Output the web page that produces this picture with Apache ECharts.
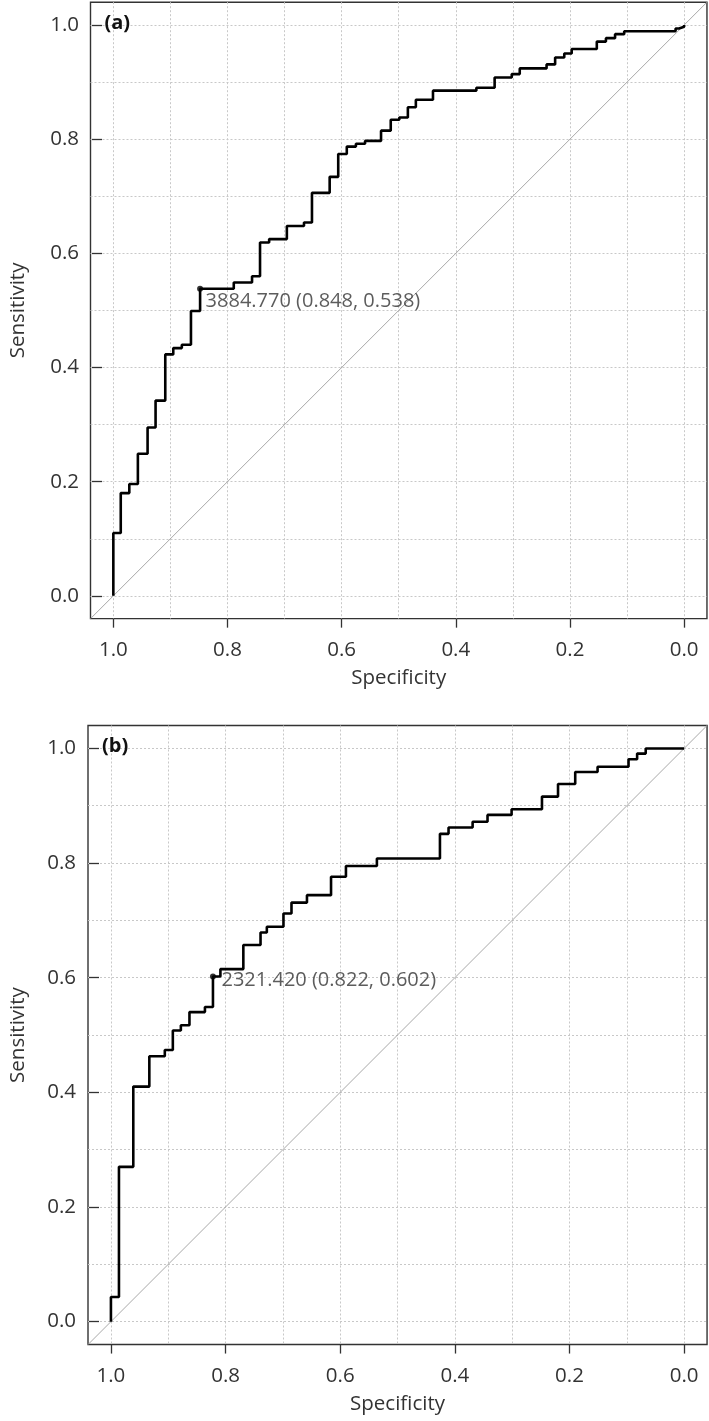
<!DOCTYPE html>
<html>
<head>
<meta charset="utf-8">
<script src="https://cdn.jsdelivr.net/npm/echarts@6/dist/echarts.min.js"></script>
<style>
html,body{margin:0;padding:0;background:#fff;}
#c{width:709px;height:1421px;}
</style>
</head>
<body>
<div id="c"></div>
<script>
// ---- data ----
const specA = [1.0, 1.0, 0.987, 0.972, 0.957, 0.940, 0.926, 0.909, 0.895, 0.880, 0.864, 0.848, 0.789, 0.757, 0.743, 0.727, 0.696, 0.666, 0.652, 0.621, 0.606, 0.591, 0.575, 0.559, 0.531, 0.514, 0.499, 0.484, 0.470, 0.440, 0.364, 0.332, 0.302, 0.288, 0.241, 0.226, 0.210, 0.197, 0.153, 0.137, 0.121, 0.105, 0.015, 0.009, 0.0];
const sensA = [0.0, 0.110, 0.180, 0.196, 0.249, 0.295, 0.342, 0.423, 0.434, 0.440, 0.499, 0.538, 0.549, 0.560, 0.619, 0.625, 0.648, 0.654, 0.706, 0.734, 0.774, 0.787, 0.792, 0.797, 0.815, 0.834, 0.838, 0.856, 0.869, 0.885, 0.890, 0.908, 0.914, 0.924, 0.931, 0.943, 0.950, 0.958, 0.971, 0.977, 0.984, 0.989, 0.994, 0.997, 1.0];
const specB = [1.0, 1.0, 0.986, 0.961, 0.933, 0.906, 0.892, 0.878, 0.863, 0.836, 0.822, 0.809, 0.769, 0.739, 0.728, 0.699, 0.685, 0.658, 0.616, 0.590, 0.536, 0.426, 0.411, 0.369, 0.343, 0.301, 0.248, 0.220, 0.190, 0.151, 0.097, 0.082, 0.067, 0.0];
const sensB = [0.0, 0.043, 0.270, 0.410, 0.463, 0.474, 0.508, 0.517, 0.540, 0.549, 0.602, 0.615, 0.657, 0.679, 0.689, 0.712, 0.731, 0.744, 0.776, 0.795, 0.808, 0.851, 0.862, 0.872, 0.884, 0.894, 0.916, 0.938, 0.959, 0.968, 0.981, 0.991, 1.0, 1.0];
// best threshold: [threshold, specificity, sensitivity]
const cutA = [3884.770, 0.848, 0.538];
const cutB = [2321.420, 0.822, 0.602];
const panelLabels = ['(a)', '(b)'];
const axisRange = [-0.04, 1.04];
const tickLabels = ['0.0', '0.2', '0.4', '0.6', '0.8', '1.0'];
const xTitle = 'Specificity';
const yTitle = 'Sensitivity';

// ---- layout ----
const FONT = 'Open Sans';
const TXT = '#333';
const panels = [
  {spec: specA, sens: sensA, cut: cutA, label: panelLabels[0], left: 90.5, top: 2.2, unit: 570.8, lblOff: [0, 13], lblDist: 2.5, yGap: 73},
  {spec: specB, sens: sensB, cut: cutB, label: panelLabels[1], left: 88.0, top: 725.5, unit: 573.2, lblOff: [0, 4], lblDist: 5.5, yGap: 70}
];

const grid = [], xAxis = [], yAxis = [], series = [], title = [];
const hidden = {axisLine: {show: false}, axisTick: {show: false}, axisLabel: {show: false}, splitLine: {show: false}};
const labFmt = v => tickLabels[Math.round(v / 0.2)] || '';
const tickStyle = {color: '#333', width: 1.3};

panels.forEach((p) => {
  const pad = 0.04 * p.unit;
  const size = 1.08 * p.unit;
  // grid 0: the plot box, holds the data
  const g0 = grid.length;
  grid.push({left: p.left, top: p.top, width: size, height: size, show: true,
    borderColor: '#333', borderWidth: 1.4, backgroundColor: 'transparent'});
  const split = {show: true, showMinLine: false, showMaxLine: false,
    lineStyle: {color: '#c8c8c8', width: 1, type: [2, 2]}};
  const ax = xAxis.length;
  xAxis.push({type: 'value', gridIndex: g0, min: axisRange[0], max: axisRange[1], inverse: true, splitNumber: 10,
    axisLine: {show: false}, axisTick: {show: false}, axisLabel: {show: false}, splitLine: split});
  yAxis.push({type: 'value', gridIndex: g0, min: axisRange[0], max: axisRange[1], splitNumber: 10,
    axisLine: {show: false}, axisTick: {show: false}, axisLabel: {show: false}, splitLine: split});

  // grid 1: left edge on the box, vertical span = [0,1] -> y ticks & labels
  grid.push({left: p.left, top: p.top + pad, width: p.unit, height: p.unit, show: false});
  xAxis.push(Object.assign({type: 'value', gridIndex: g0 + 1, min: 0, max: 1}, hidden));
  yAxis.push({type: 'value', gridIndex: g0 + 1, min: 0, max: 1, interval: 0.2, position: 'left',
    axisLine: {show: false}, splitLine: {show: false},
    axisTick: {show: true, inside: false, length: 10, lineStyle: tickStyle},
    axisLabel: {show: true, margin: 23, formatter: labFmt, color: TXT, fontSize: 20.5, fontFamily: FONT},
    name: yTitle, nameLocation: 'middle', nameGap: p.yGap,
    nameTextStyle: {color: TXT, fontSize: 20.5, fontFamily: FONT}});

  // grid 2: bottom edge on the box, horizontal span = [0,1] -> x ticks & labels
  grid.push({left: p.left + pad, top: p.top + size - p.unit, width: p.unit, height: p.unit, show: false});
  xAxis.push({type: 'value', gridIndex: g0 + 2, min: 0, max: 1, interval: 0.2, inverse: true, position: 'bottom',
    axisLine: {show: false}, splitLine: {show: false},
    axisTick: {show: true, inside: false, length: 9, lineStyle: tickStyle},
    axisLabel: {show: true, margin: 21, formatter: labFmt, color: TXT, fontSize: 20.5, fontFamily: FONT},
    name: xTitle, nameLocation: 'middle', nameGap: 49,
    nameTextStyle: {color: TXT, fontSize: 20.5, fontFamily: FONT}});
  yAxis.push(Object.assign({type: 'value', gridIndex: g0 + 2, min: 0, max: 1}, hidden));

  // chance diagonal (sensitivity = 1 - specificity) across the whole box
  series.push({type: 'line', xAxisIndex: ax, yAxisIndex: ax, silent: true, symbol: 'none', z: 2,
    data: axisRange.map(s => [s, 1 - s]),
    lineStyle: {color: '#a8a8a8', width: 1}});
  // ROC step curve
  series.push({type: 'line', xAxisIndex: ax, yAxisIndex: ax, silent: true, symbol: 'none', step: 'end', z: 3,
    data: p.spec.map((s, k) => [s, p.sens[k]]),
    lineStyle: {color: '#000', width: 2.6}});
  // best threshold point
  const c = p.cut;
  series.push({type: 'scatter', xAxisIndex: ax, yAxisIndex: ax, silent: true, z: 4,
    symbol: 'circle', symbolSize: 6, itemStyle: {color: '#000'},
    data: [[c[1], c[2]]],
    label: {show: true, position: 'right', distance: p.lblDist, offset: p.lblOff,
      formatter: c[0].toFixed(3) + ' (' + c[1].toFixed(3) + ', ' + c[2].toFixed(3) + ')',
      color: TXT, fontSize: 20, fontFamily: FONT}});

  title.push({text: p.label, left: p.left + 14, top: p.top + 11, padding: 0,
    textStyle: {fontSize: 20, fontWeight: 'bold', color: '#111', fontFamily: FONT}});
});

const chart = echarts.init(document.getElementById('c'), null, {renderer: 'canvas'});
chart.setOption({animation: false, backgroundColor: '#fff', title, grid, xAxis, yAxis, series});
</script>
</body>
</html>
